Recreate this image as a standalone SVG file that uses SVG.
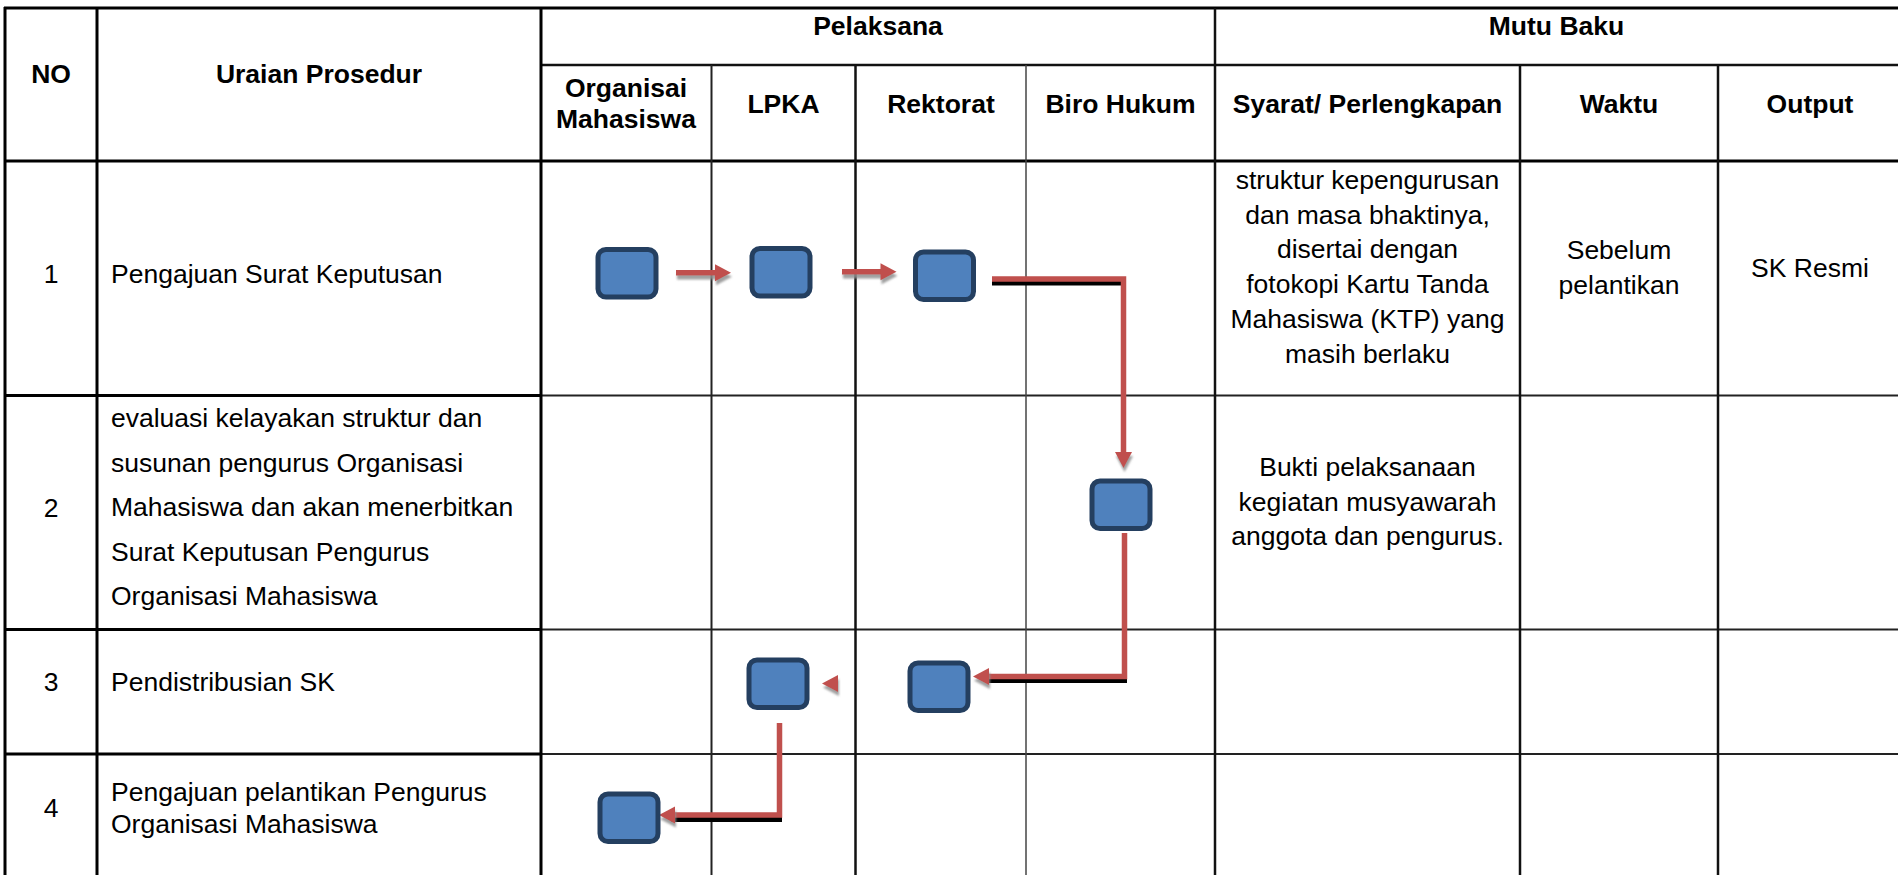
<svg xmlns="http://www.w3.org/2000/svg" xmlns:xlink="http://www.w3.org/1999/xlink" width="1898" height="875" viewBox="0 0 1898 875">
  <style>
    .h { font-family: "Liberation Sans", Arial, sans-serif; font-weight: bold; font-size: 26.5px; fill: #000; text-anchor: middle; }
    .t { font-family: "Liberation Sans", Arial, sans-serif; font-size: 26.5px; fill: #000; }
    .m { text-anchor: middle; }
    .thick { stroke: #000; stroke-width: 3; fill: none; }
    .mid { stroke: #111; stroke-width: 2.5; fill: none; }
    .thin { stroke: #222; stroke-width: 2; fill: none; }
    .hair { stroke: #444; stroke-width: 1.5; fill: none; }
    .node rect { fill: #4F81BD; stroke: #243F60; stroke-width: 5; }
    .flow { stroke: #C0504D; stroke-width: 5.5; fill: none; stroke-linejoin: miter; }
    .under { stroke: #000; stroke-width: 5; fill: none; }
    .head { fill: #C0504D; }
  </style>
  <defs>
    <filter id="shadow" filterUnits="userSpaceOnUse" x="0" y="0" width="1898" height="875">
      <feGaussianBlur in="SourceAlpha" stdDeviation="0.8"/>
      <feOffset dx="1" dy="3.5" result="off"/>
      <feFlood flood-color="#8f8f8f" flood-opacity="0.85"/>
      <feComposite in2="off" operator="in"/>
      <feMerge>
        <feMergeNode/>
        <feMergeNode in="SourceGraphic"/>
      </feMerge>
    </filter>
    <!-- arrowhead pointing right: base at x=0, tip at x=16 -->
    <polygon id="arrowhead" class="head" points="0,-8.5 16,0 0,8.5"/>
  </defs>

  <rect x="0" y="0" width="1898" height="875" fill="#fff"/>

  <!-- table grid -->
  <g id="grid">
    <line class="thick" x1="4" y1="8" x2="1898" y2="8"/>
    <line class="mid" x1="541" y1="65" x2="1898" y2="65"/>
    <line class="thick" x1="4" y1="161" x2="1898" y2="161"/>
    <line class="thick" x1="4" y1="395.5" x2="541" y2="395.5"/>
    <line class="thin" x1="541" y1="395.5" x2="1898" y2="395.5"/>
    <line class="thick" x1="4" y1="629.5" x2="541" y2="629.5"/>
    <line class="thin" x1="541" y1="629.5" x2="1898" y2="629.5"/>
    <line class="thick" x1="4" y1="754" x2="541" y2="754"/>
    <line class="thin" x1="541" y1="754" x2="1898" y2="754"/>

    <line class="thick" x1="5" y1="7" x2="5" y2="875"/>
    <line class="thick" x1="97" y1="8" x2="97" y2="875"/>
    <line class="thick" x1="541" y1="8" x2="541" y2="875"/>
    <line class="thin" x1="711.5" y1="65" x2="711.5" y2="875"/>
    <line class="mid" x1="855.5" y1="65" x2="855.5" y2="875"/>
    <line class="hair" x1="1026" y1="65" x2="1026" y2="875"/>
    <line class="mid" x1="1215" y1="8" x2="1215" y2="875"/>
    <line class="mid" x1="1520" y1="65" x2="1520" y2="875"/>
    <line class="mid" x1="1718" y1="65" x2="1718" y2="875"/>
  </g>

  <!-- header -->
  <g id="header">
    <text class="h" x="51" y="82.5">NO</text>
    <text class="h" x="319" y="82.5">Uraian Prosedur</text>
    <text class="h" x="878" y="34.5">Pelaksana</text>
    <text class="h" x="1556.5" y="34.5">Mutu Baku</text>
    <text class="h" x="626" y="96.5">Organisai</text>
    <text class="h" x="626" y="128">Mahasiswa</text>
    <text class="h" x="783.5" y="112.5">LPKA</text>
    <text class="h" x="941" y="112.5">Rektorat</text>
    <text class="h" x="1120.5" y="112.5">Biro Hukum</text>
    <text class="h" x="1367.5" y="112.5">Syarat/ Perlengkapan</text>
    <text class="h" x="1619" y="112.5">Waktu</text>
    <text class="h" x="1810" y="112.5">Output</text>
  </g>

  <!-- row texts -->
  <g id="row1-text">
    <text class="t m" x="51" y="283">1</text>
    <text class="t" x="111" y="283">Pengajuan Surat Keputusan</text>
    <text class="t m" x="1367.5" y="189"><tspan x="1367.5">struktur kepengurusan</tspan><tspan x="1367.5" dy="34.7">dan masa bhaktinya,</tspan><tspan x="1367.5" dy="34.7">disertai dengan</tspan><tspan x="1367.5" dy="34.7">fotokopi Kartu Tanda</tspan><tspan x="1367.5" dy="34.7">Mahasiswa (KTP) yang</tspan><tspan x="1367.5" dy="34.7">masih berlaku</tspan></text>
    <text class="t m" x="1619" y="259"><tspan x="1619">Sebelum</tspan><tspan x="1619" dy="34.5">pelantikan</tspan></text>
    <text class="t m" x="1810" y="276.5">SK Resmi</text>
  </g>
  <g id="row2-text">
    <text class="t m" x="51" y="516.5">2</text>
    <text class="t" x="111" y="427"><tspan x="111">evaluasi kelayakan struktur dan</tspan><tspan x="111" dy="44.5">susunan pengurus Organisasi</tspan><tspan x="111" dy="44.5">Mahasiswa dan akan menerbitkan</tspan><tspan x="111" dy="44.5">Surat Keputusan Pengurus</tspan><tspan x="111" dy="44.5">Organisasi Mahasiswa</tspan></text>
    <text class="t m" x="1367.5" y="476"><tspan x="1367.5">Bukti pelaksanaan</tspan><tspan x="1367.5" dy="34.5">kegiatan musyawarah</tspan><tspan x="1367.5" dy="34.5">anggota dan pengurus.</tspan></text>
  </g>
  <g id="row3-text">
    <text class="t m" x="51" y="691">3</text>
    <text class="t" x="111" y="691">Pendistribusian SK</text>
  </g>
  <g id="row4-text">
    <text class="t m" x="51" y="817">4</text>
    <text class="t" x="111" y="801"><tspan x="111">Pengajuan pelantikan Pengurus</tspan><tspan x="111" dy="31.5">Organisasi Mahasiswa</tspan></text>
  </g>

  <!-- connectors -->
  <g id="connectors">
    <!-- dark underlines beneath the horizontal runs -->
    <path class="under" d="M992,283 H1121"/>
    <path class="under" d="M988,680.5 H1127"/>
    <path class="under" d="M671,819.5 H782"/>

    <!-- Organisasi Mahasiswa -> LPKA -->
    <g filter="url(#shadow)">
      <path class="flow" d="M676,272.8 H716"/>
      <use xlink:href="#arrowhead" transform="translate(715,272.8)"/>
    </g>
    <!-- LPKA -> Rektorat -->
    <g filter="url(#shadow)">
      <path class="flow" d="M842,271.8 H881"/>
      <use xlink:href="#arrowhead" transform="translate(880.5,271.8)"/>
    </g>
    <!-- Rektorat -> Biro Hukum -->
    <path class="flow" d="M992,279 H1123.5 V453"/>
    <g filter="url(#shadow)">
      <use xlink:href="#arrowhead" transform="translate(1123.5,452) rotate(90)"/>
    </g>
    <!-- Biro Hukum -> Rektorat -->
    <path class="flow" d="M1124.5,533 V676.5 H988"/>
    <g filter="url(#shadow)">
      <use xlink:href="#arrowhead" transform="translate(989,676.5) rotate(180)"/>
    </g>
    <!-- Rektorat -> LPKA -->
    <g filter="url(#shadow)">
      <use xlink:href="#arrowhead" transform="translate(838,683.5) rotate(180)"/>
    </g>
    <!-- LPKA -> Organisasi Mahasiswa -->
    <path class="flow" d="M779.5,723 V815 H674"/>
    <g filter="url(#shadow)">
      <use xlink:href="#arrowhead" transform="translate(675,815) rotate(180)"/>
    </g>
  </g>

  <!-- process nodes -->
  <g id="n1" class="node"><rect x="598" y="249.5" width="58" height="47.5" rx="8"/></g>
  <g id="n2" class="node"><rect x="752" y="248.5" width="58" height="47.5" rx="8"/></g>
  <g id="n3" class="node"><rect x="915.5" y="252" width="58" height="47.5" rx="8"/></g>
  <g id="n4" class="node"><rect x="1092" y="481" width="58" height="47.5" rx="8"/></g>
  <g id="n5" class="node"><rect x="910" y="663" width="58" height="47.5" rx="8"/></g>
  <g id="n6" class="node"><rect x="749" y="660" width="58" height="47.5" rx="8"/></g>
  <g id="n7" class="node"><rect x="600" y="794" width="58" height="47.5" rx="8"/></g>
</svg>
